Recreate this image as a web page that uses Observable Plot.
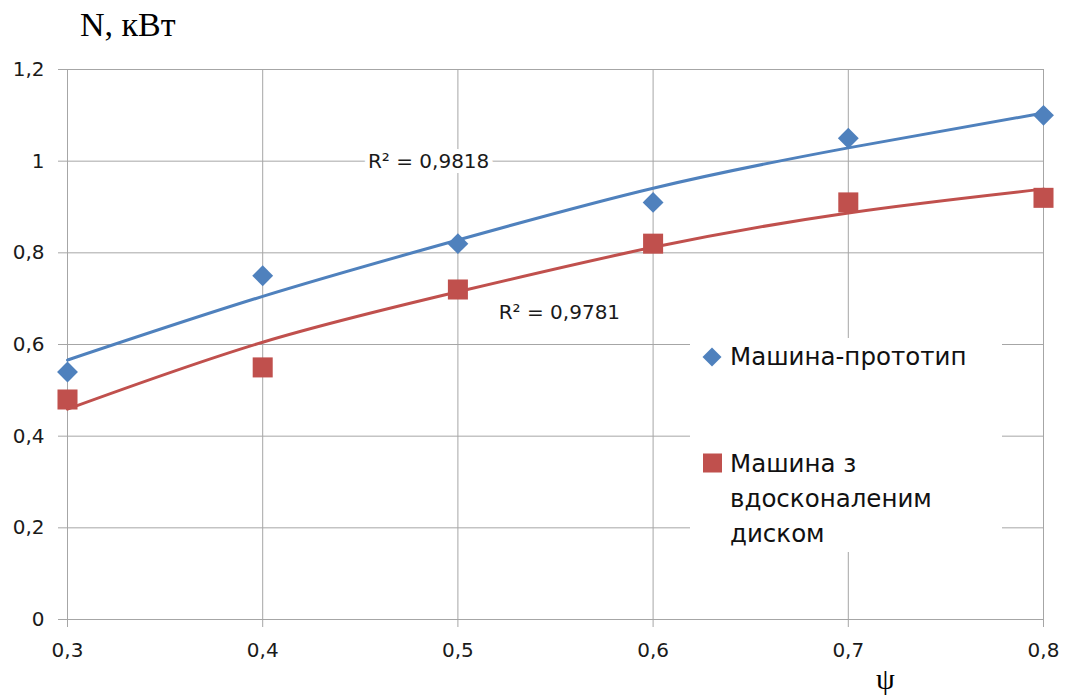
<!DOCTYPE html>
<html>
<head>
<meta charset="utf-8">
<script src="https://cdn.jsdelivr.net/npm/d3@7"></script>
<script src="https://cdn.jsdelivr.net/npm/@observablehq/plot@0.6"></script>
<style>
  body { margin: 0; background: #fff; }
  #wrap { position: relative; width: 1066px; height: 699px; overflow: hidden; }
  .legend { position: absolute; left: 690px; top: 338px; width: 312px; height: 214px; background: #fff; }
  .title { position: absolute; font-family: "Liberation Serif", serif; color: #000; line-height: 1; white-space: nowrap; }
</style>
</head>
<body>
<div id="wrap"></div>
<script>
// ---- data ----
const psi = [0.3, 0.4, 0.5, 0.6, 0.7, 0.8];
const prototypeN = [0.54, 0.75, 0.82, 0.91, 1.05, 1.10];
const improvedN = [0.48, 0.55, 0.72, 0.82, 0.91, 0.92];
const prototypeTrend = [0.566, 0.705, 0.828, 0.941, 1.029, 1.105];
const improvedTrend = [0.459, 0.605, 0.715, 0.812, 0.887, 0.939];
const xTicks = [0.3, 0.4, 0.5, 0.6, 0.7, 0.8];
const yTicks = [0, 0.2, 0.4, 0.6, 0.8, 1.0, 1.2];
const r2Labels = ["R² = 0,9818", "R² = 0,9781"];
const r2X = [0.485, 0.552];
const r2Y = [0.9985, 0.6705];
const seriesNames = ["Машина-прототип", "Машина з", "вдосконаленим", "диском"];
const colors = ["#4f81bd", "#c0504d"];

const fmt = d => String(d).replace(".", ",");
const gridColor = "#a6a6a6";

const protoRows = psi.map((x, i) => ({x, y: prototypeN[i], t: prototypeTrend[i]}));
const impRows = psi.map((x, i) => ({x, y: improvedN[i], t: improvedTrend[i]}));
const labelRows = r2Labels.map((s, i) => ({s, x: r2X[i], y: r2Y[i]}));

const chart = Plot.plot({
  width: 1066,
  height: 699,
  marginLeft: 67,
  marginRight: 23,
  marginTop: 69,
  marginBottom: 80,
  style: {fontFamily: "DejaVu Sans, sans-serif", fontSize: "20px", color: "#222", background: "transparent"},
  x: {domain: [0.3, 0.8], ticks: xTicks},
  y: {domain: [0, 1.2], ticks: yTicks},
  marks: [
    Plot.gridX(xTicks, {stroke: gridColor, strokeOpacity: 1}),
    Plot.gridY(yTicks, {stroke: gridColor, strokeOpacity: 1}),
    Plot.axisX(xTicks, {tickSize: 8, tickPadding: 15, stroke: gridColor, tickFormat: fmt, label: null, fill: "#1a1a1a", fontSize: 20}),
    Plot.axisY(yTicks, {tickSize: 9, tickPadding: 14, stroke: gridColor, tickFormat: fmt, label: null, fill: "#1a1a1a", fontSize: 20}),
    Plot.line(protoRows, {x: "x", y: "t", stroke: colors[0], strokeWidth: 3, curve: "natural"}),
    Plot.line(impRows, {x: "x", y: "t", stroke: colors[1], strokeWidth: 3, curve: "natural"}),
    Plot.dot(protoRows, {x: "x", y: "y", symbol: "diamond2", r: 9.4, fill: colors[0], stroke: "none"}),
    Plot.dot(impRows, {x: "x", y: "y", symbol: "square", r: 11.3, fill: colors[1], stroke: "none"}),
    Plot.text(labelRows, {x: "x", y: "y", text: "s", fontFamily: "DejaVu Sans, sans-serif", fontSize: 20,
      fill: "#1a1a1a", stroke: "white", strokeWidth: 10, paintOrder: "stroke"})
  ]
});

const wrap = document.getElementById("wrap");
wrap.appendChild(chart);
chart.style.position = "absolute";
chart.style.left = "0";
chart.style.top = "0";

// axis titles
const t1 = document.createElement("div");
t1.className = "title";
t1.textContent = "N, кВт";
t1.style.left = "80px"; t1.style.top = "8px"; t1.style.fontSize = "34px";
wrap.appendChild(t1);
const t2 = document.createElement("div");
t2.className = "title";
t2.textContent = "ψ";
t2.style.left = "876px"; t2.style.top = "664px"; t2.style.fontSize = "30px";
wrap.appendChild(t2);

// legend
const lg = document.createElement("div");
lg.className = "legend";
lg.innerHTML = `
  <svg width="312" height="214" style="font-family:'DejaVu Sans',sans-serif;font-size:24.5px;fill:#111">
    <path d="M22,9.5 L31.5,19 L22,28.5 L12.5,19 Z" fill="${colors[0]}"/>
    <text x="40" y="27">${seriesNames[0]}</text>
    <rect x="13" y="115.5" width="19" height="19" fill="${colors[1]}"/>
    <text x="40" y="133.7">${seriesNames[1]}</text>
    <text x="40" y="168.7">${seriesNames[2]}</text>
    <text x="40" y="203.7">${seriesNames[3]}</text>
  </svg>`;
wrap.appendChild(lg);
</script>
</body>
</html>
